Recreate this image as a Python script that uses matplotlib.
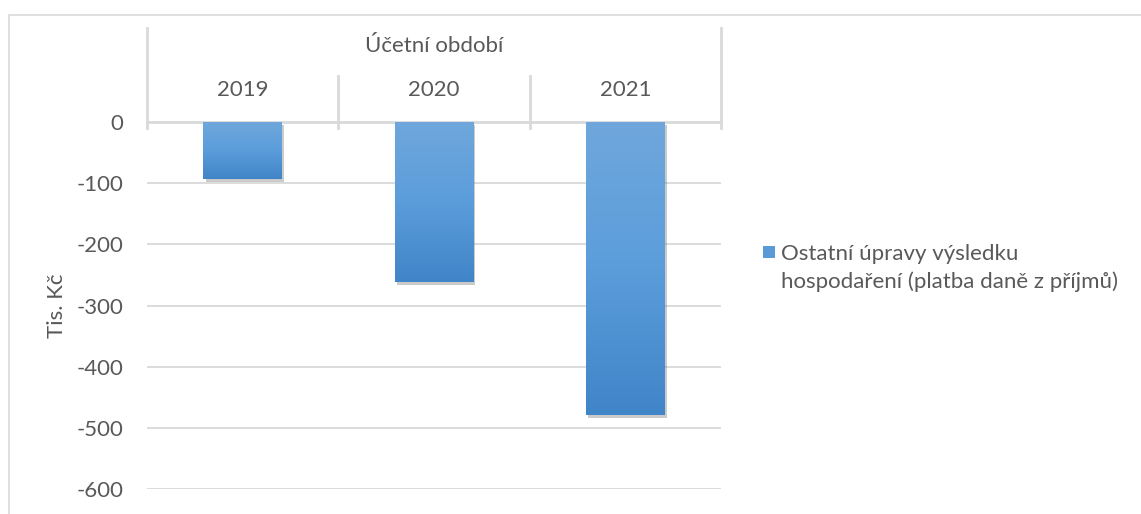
import matplotlib.pyplot as plt
import matplotlib.patheffects as pe
import numpy as np
from matplotlib.patches import Rectangle
from matplotlib.colors import LinearSegmentedColormap

years = ['2019', '2020', '2021']
values = [-93, -261, -479]
yticks = [0, -100, -200, -300, -400, -500, -600]
series_name = 'Ostatní úpravy výsledku\nhospodaření (platba daně z příjmů)'
cat_title = 'Účetní období'
ylabel = 'Tis. Kč'

plt.rcParams['font.family'] = ['Lato', 'DejaVu Sans']
txt = '#595959'
grid = '#d9d9d9'
fs = 16

fig = plt.figure(figsize=(11.41, 5.14), dpi=100)
# chart frame
fig.patches.append(Rectangle((9 / 1141, -0.1), 1.2, 1 - 15 / 514 + 0.1, transform=fig.transFigure,
                             fill=False, edgecolor=grid, lw=1.2))

ax = fig.add_axes([147 / 1141, 1 - 489 / 514, (721 - 147) / 1141, (489 - 122) / 514])
for s in ax.spines.values():
    s.set_visible(False)
ax.set_yticks(yticks)
ax.set_yticklabels([str(v) for v in yticks], fontsize=fs, color=txt)
ax.tick_params(axis='y', length=0, pad=17)
ax.set_xticks([])
ax.yaxis.grid(True, color=grid, lw=1.3)
ax.set_axisbelow(True)
ax.set_ylabel(ylabel, fontsize=fs, color=txt)
ax.yaxis.set_label_coords(-0.139, 0.5)

# bars with vertical gradient, lighter at the top
grad = np.linspace(0, 1, 256).reshape(-1, 1)
cmap = LinearSegmentedColormap.from_list('g', ['#4085c8', '#5b9ddb', '#6fa7dc'])
bw = 0.41
for i, v in enumerate(values):
    r = ax.bar(i, v, width=bw, color='#5599d5', zorder=3)[0]
    r.set_path_effects([pe.SimplePatchShadow(offset=(1.5, -2.5), shadow_rgbFace='#555555', alpha=0.3),
                        pe.Normal()])
    im = ax.imshow(grad, cmap=cmap, extent=(i - bw / 2, i + bw / 2, v, 0), aspect='auto', zorder=4,
                   origin='lower')
    im.set_clip_path(r)
ax.set_xlim(-0.5, 2.5)
ax.set_ylim(-600, 0)

# category axis on top
tr = ax.get_xaxis_transform()
ax.plot([-0.5, 2.5], [1, 1], transform=tr, color=grid, lw=2, clip_on=False, zorder=2)
for x in [-0.5, 0.5, 1.5, 2.5]:
    top = 1.255 if x in (-0.5, 2.5) else 1.125
    ax.plot([x, x], [0.983, top], transform=tr, color=grid, lw=2, clip_on=False)
for i, y in enumerate(years):
    ax.text(i, 1.087, y, transform=tr, ha='center', va='center', fontsize=fs, color=txt)
ax.text(1, 1.208, cat_title, transform=tr, ha='center', va='center', fontsize=fs, color=txt)

# legend
fig.patches.append(Rectangle((763 / 1141, 1 - 258 / 514), 12 / 1141, 12 / 514, transform=fig.transFigure,
                             facecolor='#5a9ad6', edgecolor='none'))
fig.text(781 / 1141, 1 - 268 / 514, series_name, fontsize=fs, color=txt, va='center', ha='left',
         linespacing=1.4)

fig.savefig('out.png', dpi=100)
